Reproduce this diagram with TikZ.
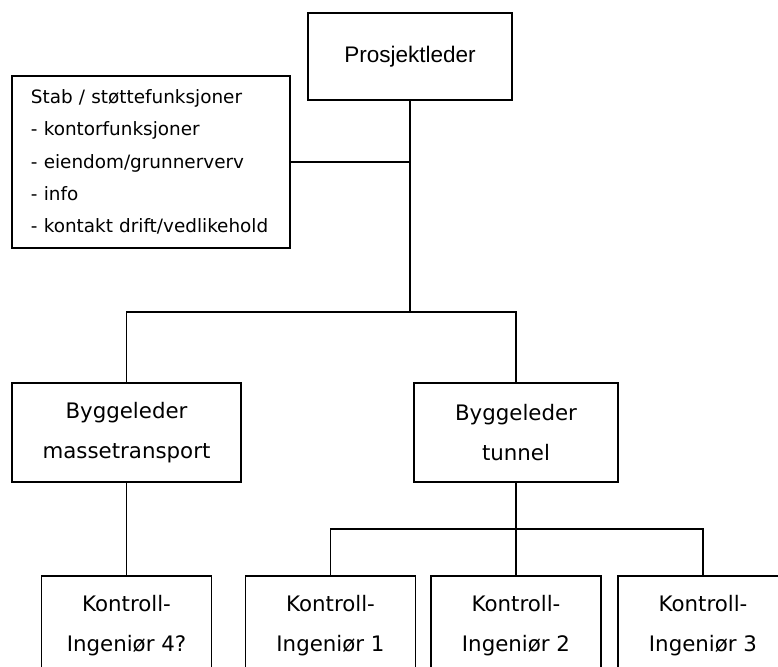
\documentclass[tikz,border=0pt]{standalone}
\usepackage{fontspec}
\setmainfont{DejaVu Sans}
\newfontfamily\arialfont{Liberation Sans}
\usepackage{tikz}
\usetikzlibrary{positioning}
\tikzstyle{block} = [draw, rectangle, inner sep=0pt, align=center,
    font=\fontsize{16}{30}\selectfont]
\tikzstyle{topblock} = [block, minimum width=153pt, minimum height=65.25pt,
    font=\arialfont\fontsize{16.9}{20}\selectfont]
\tikzstyle{stabblock} = [draw, rectangle, inner sep=0pt, align=left,
    text width=180pt, minimum height=129pt,
    font=\fontsize{13.8}{24.2}\selectfont]
\tikzstyle{mgr} = [block, minimum height=74.25pt]
\tikzstyle{ctrl} = [block, minimum width=127.5pt, minimum height=74.25pt]

\begin{document}
\begin{tikzpicture}[x=0.75pt, y=-0.75pt, line width=1.4pt]
    \useasboundingbox (0,0) rectangle (778,667);
    \clip (0,0) rectangle (778,667);
    % leader and staff
    \node [topblock] (leader) at (410,56.5) {Prosjektleder};
    \node [stabblock, minimum width=208.5pt] (stab) at (151,162)
        {Stab / støttefunksjoner\\- kontorfunksjoner\\- eiendom/grunnerverv\\- info\\- kontakt drift/vedlikehold};

    % the two site managers
    \node [mgr, minimum width=171.75pt] (masse) at (126.5,432.5) {Byggeleder\\massetransport};
    \node [mgr, minimum width=153pt] (tunnel) at (516,432.5) {Byggeleder\\tunnel};

    % control engineers in a row
    \node [ctrl] (k4) at (126.5,625.5) {Kontroll-\\Ingeniør 4?};
    \node [ctrl, right of=k4, node distance=153pt] (k1) {Kontroll-\\Ingeniør 1};
    \node [ctrl, right of=k1, node distance=139.125pt] (k2) {Kontroll-\\Ingeniør 2};
    \node [ctrl, right of=k2, node distance=140.25pt] (k3) {Kontroll-\\Ingeniør 3};

    % branching points
    \coordinate (split) at (410,312);
    \coordinate (fork) at (516,529);

    % connections
    \draw (leader.south) -- (split);
    \draw (stab.east) -- (stab.east -| split);
    \draw (masse.north) |- (split) -| (tunnel.north);
    \draw (masse.south) -- (k4.north);
    \draw (tunnel.south) -- (fork);
    \draw (k1.north) |- (fork) -| (k3.north);
    \draw (fork) -- (k2.north);
\end{tikzpicture}
\end{document}
